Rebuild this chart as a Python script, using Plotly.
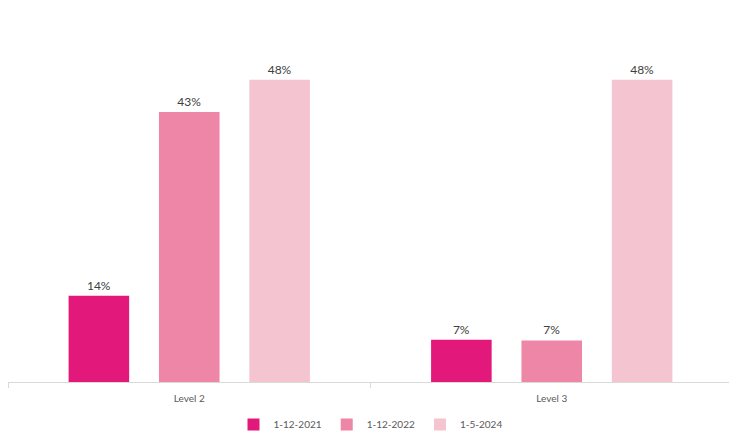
import plotly.graph_objects as go

categories = ["Level 2", "Level 3"]
series_names = ["1-12-2021", "1-12-2022", "1-5-2024"]
values_2021 = [13.7, 6.7]
values_2022 = [42.9, 6.6]
values_2024 = [48.0, 48.0]
colors = ["#E2187A", "#EE86A7", "#F5C4D1"]

fig = go.Figure()
for name, vals, col in zip(series_names, [values_2021, values_2022, values_2024], colors):
    fig.add_trace(go.Bar(
        x=categories, y=vals, name=name,
        marker=dict(color=col, line=dict(width=0)),
        text=[f"{v:.0f}%" for v in vals],
        textposition="outside",
        textfont=dict(size=12, color="#404040", family="Lato"),
        cliponaxis=False,
    ))

fig.update_layout(
    width=729, height=431,
    margin=dict(l=0, r=4, t=0, b=56),
    paper_bgcolor="white", plot_bgcolor="white",
    barmode="group", bargap=0.252, bargroupgap=0.33,
    font=dict(family="Lato", color="#595959", size=10),
    showlegend=True,
    legend=dict(orientation="h", x=0.5, xanchor="center", y=-0.113, yanchor="middle",
                font=dict(size=10, color="#595959"), itemwidth=30,
                traceorder="normal"),
    xaxis=dict(showline=True, linecolor="#D9D9D9", linewidth=1,
               ticks="outside", tickson="boundaries", ticklen=5, tickcolor="#D9D9D9",
               ticklabelstandoff=7,
               tickfont=dict(size=10, color="#595959"), showgrid=False),
    yaxis=dict(range=[0, 59.4], visible=False, showgrid=False, zeroline=False),
)
fig.write_html("out.html")
